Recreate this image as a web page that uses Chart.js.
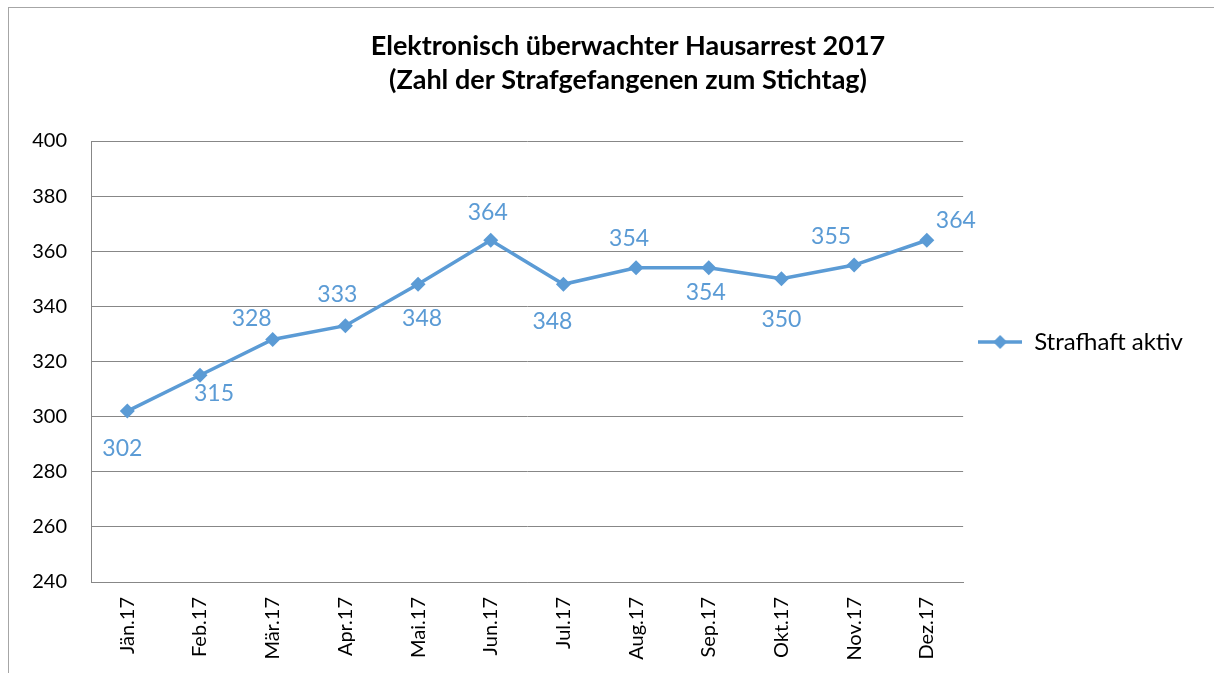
<!DOCTYPE html>
<html>
<head>
<meta charset="utf-8">
<title>Elektronisch überwachter Hausarrest 2017</title>
<script src="https://cdn.jsdelivr.net/npm/chart.js@4/dist/chart.umd.min.js"></script>
<style>
  html, body { margin: 0; padding: 0; background: #fff; }
  #wrap { width: 1214px; height: 673px; }
</style>
</head>
<body>
<div id="wrap"><canvas id="hausarrestChart" width="1214" height="673"></canvas></div>
<script>
// data
const months = ['Jän.17', 'Feb.17', 'Mär.17', 'Apr.17', 'Mai.17', 'Jun.17',
  'Jul.17', 'Aug.17', 'Sep.17', 'Okt.17', 'Nov.17', 'Dez.17'];
const strafhaftAktiv = [302, 315, 328, 333, 348, 364, 348, 354, 354, 350, 355, 364];
const seriesName = 'Strafhaft aktiv';
const titleLines = ['Elektronisch überwachter Hausarrest 2017', '(Zahl der Strafgefangenen zum Stichtag)'];
const yMin = 240;
const yMax = 400;
const yStep = 20;

const blue = '#5B9BD5';
const gridGray = '#878787';
const fontFamily = 'Lato, "Open Sans", sans-serif';

// where Excel put each value label, relative to its point (px)
const labelOffsets = [
  [-5, 37], [14, 18], [-21, -21], [-8, -31], [4, 34], [-3, -28],
  [-11, 37], [-7, -29], [-3, 25], [0, 41], [-23, -28], [29, -20]
];

// legend marker: short line with a diamond, like Excel
const legendMarker = document.createElement('canvas');
legendMarker.width = 44;
legendMarker.height = 16;
(() => {
  const c = legendMarker.getContext('2d');
  c.strokeStyle = blue;
  c.lineWidth = 3.5;
  c.beginPath();
  c.moveTo(0, 8);
  c.lineTo(44, 8);
  c.stroke();
  c.fillStyle = blue;
  c.beginPath();
  c.moveTo(22, 1);
  c.lineTo(29, 8);
  c.lineTo(22, 15);
  c.lineTo(15, 8);
  c.closePath();
  c.fill();
})();

// gray frame round the whole chart
const framePlugin = {
  id: 'frame',
  beforeDraw(chart) {
    const ctx = chart.ctx;
    ctx.save();
    ctx.fillStyle = '#fff';
    ctx.fillRect(0, 0, chart.width, chart.height);
    ctx.strokeStyle = '#a6a6a6';
    ctx.lineWidth = 1;
    ctx.strokeRect(8.5, 7.5, chart.width + 20, chart.height + 20);
    ctx.restore();
  }
};

// two-line title, centred like in the Excel chart (not on the canvas middle)
const titlePlugin = {
  id: 'excelTitle',
  afterDraw(chart) {
    const ctx = chart.ctx;
    ctx.save();
    ctx.font = 'bold 27px ' + fontFamily;
    ctx.fillStyle = '#000';
    ctx.textAlign = 'center';
    ctx.textBaseline = 'middle';
    titleLines.forEach((line, i) => {
      ctx.fillText(line, 628, 46 + i * 34);
    });
    ctx.restore();
  }
};

// value labels next to the points
const valueLabels = {
  id: 'valueLabels',
  afterDatasetsDraw(chart) {
    const ctx = chart.ctx;
    const meta = chart.getDatasetMeta(0);
    const values = chart.data.datasets[0].data;
    ctx.save();
    ctx.font = '23px ' + fontFamily;
    ctx.fillStyle = blue;
    ctx.textAlign = 'center';
    ctx.textBaseline = 'middle';
    meta.data.forEach((pt, i) => {
      const off = labelOffsets[i] || [0, -25];
      ctx.fillText(String(values[i]), pt.x + off[0], pt.y + off[1]);
    });
    ctx.restore();
  }
};

const ctx = document.getElementById('hausarrestChart');
new Chart(ctx, {
  type: 'line',
  data: {
    labels: months,
    datasets: [{
      label: seriesName,
      data: strafhaftAktiv,
      borderColor: blue,
      backgroundColor: blue,
      borderWidth: 3.5,
      tension: 0,
      pointStyle: 'rectRot',
      pointRadius: 7.5,
      pointBackgroundColor: blue,
      pointBorderColor: blue,
      pointBorderWidth: 0
    }]
  },
  options: {
    responsive: false,
    animation: false,
    devicePixelRatio: 1,
    layout: {
      padding: { left: 28, right: 21, top: 141, bottom: 0 }
    },
    plugins: {
      title: { display: false },
      legend: {
        position: 'right',
        align: 'start',
        fullSize: false,
        // empty legend title only used as a spacer to push the entry down
        title: {
          display: true,
          text: ' ',
          font: { size: 10, lineHeight: 1.2 },
          padding: { top: 162, bottom: 0 }
        },
        labels: {
          color: '#000',
          font: { family: fontFamily, size: 24 },
          usePointStyle: true,
          pointStyle: legendMarker,
          pointStyleWidth: 44,
          padding: 15
        }
      },
      tooltip: { enabled: false }
    },
    scales: {
      x: {
        offset: true,
        grid: { display: false, drawTicks: false },
        border: { display: true, color: gridGray, width: 1 },
        ticks: {
          color: '#000',
          font: { family: fontFamily, size: 20 },
          minRotation: 90,
          maxRotation: 90,
          padding: 15,
          autoSkip: false
        },
        afterFit(scale) { scale.height = 91; }
      },
      y: {
        min: yMin,
        max: yMax,
        grid: { color: gridGray, lineWidth: 1, drawTicks: false },
        border: { display: true, color: gridGray, width: 1 },
        ticks: {
          stepSize: yStep,
          color: '#000',
          font: { family: fontFamily, size: 20 },
          padding: 24
        },
        afterFit(scale) { scale.width = 63; }
      }
    }
  },
  plugins: [framePlugin, valueLabels, titlePlugin]
});
</script>
</body>
</html>
